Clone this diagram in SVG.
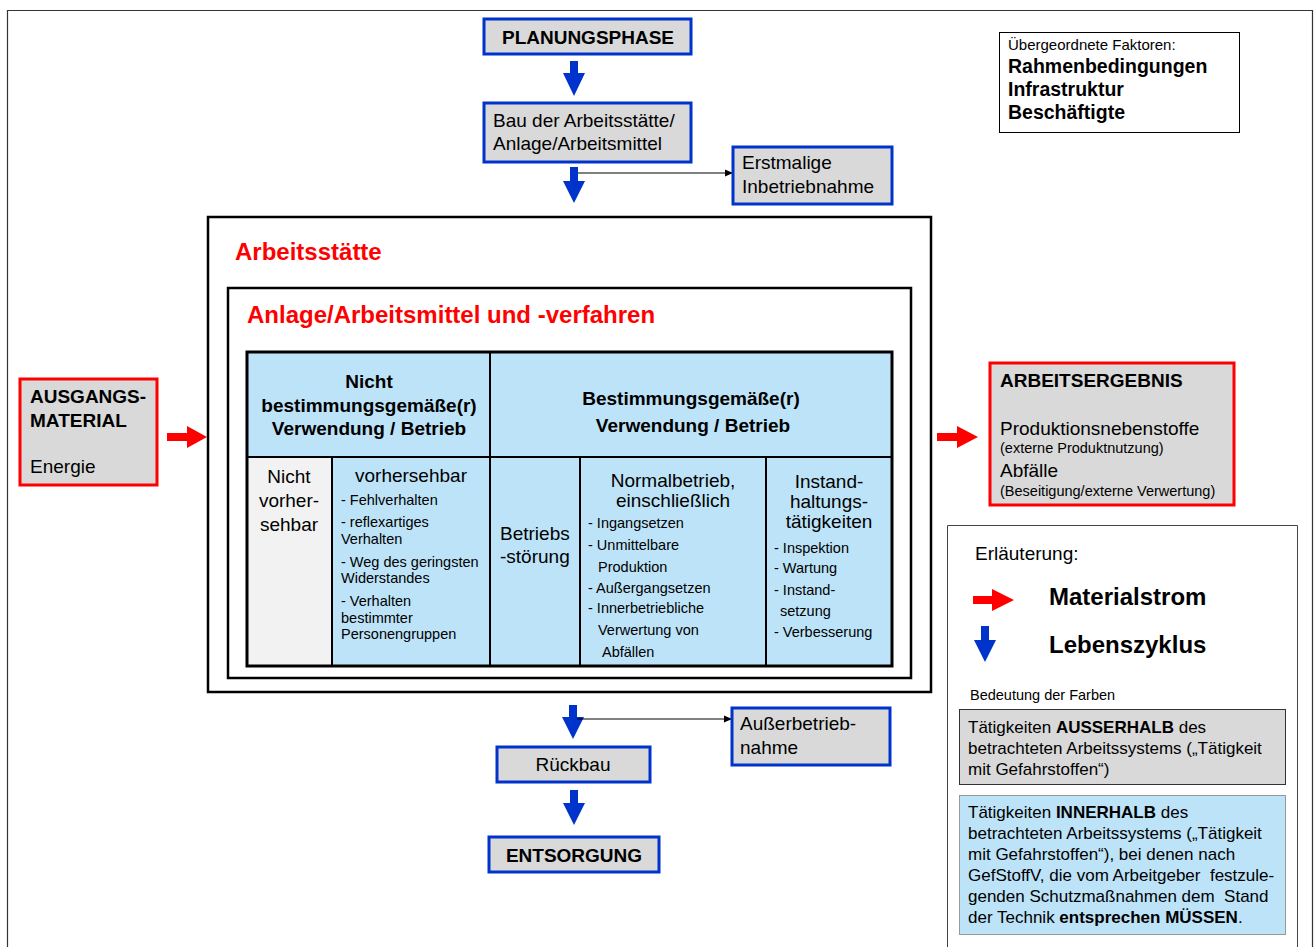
<svg xmlns="http://www.w3.org/2000/svg" width="1314" height="947" viewBox="0 0 1314 947">
<defs>
<marker id="ah" markerWidth="8" markerHeight="8" refX="7" refY="4" orient="auto" markerUnits="userSpaceOnUse">
<path d="M0,0.5 L8,4 L0,7.5 Z" fill="#000"/>
</marker>
<style>
text{font-family:"Liberation Sans",Arial,sans-serif;fill:#000}
.b{font-weight:bold}
.box{fill:#d9d9d9;stroke:#0033cc;stroke-width:3}
.rbox{fill:#d9d9d9;stroke:#ff0000;stroke-width:3}
.blue{fill:#0033cc}
.red{fill:#ff0000}
.t19{font-size:19px}
.t14{font-size:14.5px}
.t17{font-size:17px}
.title{font-size:24px;font-weight:bold;fill:#ff0000}
.big{font-size:24px;font-weight:bold}
.cell{stroke:#000;stroke-width:2}
.mid{text-anchor:middle}
</style>
</defs>
<rect width="1314" height="947" fill="#fff"/>
<path d="M7.5,947 V10.5 H1312.5 V947" fill="none" stroke="#333" stroke-width="1.2"/>

<g id="connectors">
<polygon class="blue" points="570,61 578,61 578,73 585,73 574,96 563,73 570,73"/>
<polygon class="blue" points="570,167 578,167 578,181 585,181 574,203 563,181 570,181"/>
<polygon class="blue" points="569,705 577,705 577,717 584,717 573,739 562,717 569,717"/>
<polygon class="blue" points="570,790 578,790 578,803 585,803 574,825 563,803 570,803"/>
<line x1="578" y1="173" x2="732" y2="173" stroke="#000" stroke-width="1" marker-end="url(#ah)"/>
<line x1="577" y1="719" x2="731" y2="719" stroke="#000" stroke-width="1" marker-end="url(#ah)"/>
<polygon class="red" points="167,433 187,433 187,426 207,437 187,448 187,441 167,441"/>
<polygon class="red" points="937,433 957,433 957,426 978,437 957,448 957,441 937,441"/>
</g>

<g id="planungsphase">
<rect class="box" x="484" y="19" width="207" height="35"/>
<text class="b t19 mid" x="588" y="44">PLANUNGSPHASE</text>
</g>

<g id="bau">
<rect class="box" x="484" y="103" width="207" height="59"/>
<text class="t19" x="493" y="127">Bau der Arbeitsstätte/</text>
<text class="t19" x="493" y="150">Anlage/Arbeitsmittel</text>
</g>

<g id="erstmalige">
<rect class="box" x="733" y="147" width="159" height="57"/>
<text class="t19" x="742" y="169">Erstmalige</text>
<text class="t19" x="742" y="193">Inbetriebnahme</text>
</g>

<g id="faktoren">
<rect x="999.5" y="32.5" width="240" height="100" fill="#fff" stroke="#000" stroke-width="1"/>
<text x="1008" y="50" style="font-size:15px">Übergeordnete Faktoren:</text>
<text class="b" x="1008" y="73" style="font-size:19.5px">Rahmenbedingungen</text>
<text class="b" x="1008" y="96" style="font-size:19.5px">Infrastruktur</text>
<text class="b" x="1008" y="119" style="font-size:19.5px">Beschäftigte</text>
</g>

<g id="arbeitsstaette">
<rect x="208" y="217" width="723" height="475" fill="#fff" stroke="#000" stroke-width="2.5"/>
<text class="title" x="235" y="260">Arbeitsstätte</text>
</g>

<g id="anlage">
<rect x="228" y="288" width="683" height="390" fill="#fff" stroke="#000" stroke-width="2.5"/>
<text class="title" x="247" y="323">Anlage/Arbeitsmittel und -verfahren</text>
</g>

<g id="tabelle">
<rect x="247" y="352" width="645" height="314" fill="#bde3f8"/>
<rect x="247" y="457" width="85" height="209" fill="#f2f2f2"/>
<g class="cell" fill="none">
<line x1="247" y1="457" x2="892" y2="457"/>
<line x1="490" y1="352" x2="490" y2="666"/>
<line x1="332" y1="457" x2="332" y2="666"/>
<line x1="580" y1="457" x2="580" y2="666"/>
<line x1="766" y1="457" x2="766" y2="666"/>
</g>
<rect x="247" y="352" width="645" height="314" fill="none" stroke="#000" stroke-width="3"/>
<text class="b t19 mid" x="369" y="388">Nicht</text>
<text class="b t19 mid" x="369" y="412">bestimmungsgemäße(r)</text>
<text class="b t19 mid" x="369" y="435">Verwendung / Betrieb</text>
<text class="b t19 mid" x="691" y="405">Bestimmungsgemäße(r)</text>
<text class="b t19 mid" x="693" y="432">Verwendung / Betrieb</text>

<text class="t19 mid" x="289" y="483">Nicht</text>
<text class="t19 mid" x="289" y="507">vorher-</text>
<text class="t19 mid" x="289" y="531">sehbar</text>

<text class="t19 mid" x="411" y="482">vorhersehbar</text>
<g class="t14">
<text x="341" y="505">- Fehlverhalten</text>
<text x="341" y="527">- reflexartiges</text>
<text x="341" y="544">Verhalten</text>
<text x="341" y="567">- Weg des geringsten</text>
<text x="341" y="583">Widerstandes</text>
<text x="341" y="606">- Verhalten</text>
<text x="341" y="623">bestimmter</text>
<text x="341" y="639">Personengruppen</text>
</g>

<text class="t19" x="500" y="540">Betriebs</text>
<text class="t19" x="500" y="563">-störung</text>

<text class="t19 mid" x="673" y="487">Normalbetrieb,</text>
<text class="t19 mid" x="673" y="507">einschließlich</text>
<g class="t14">
<text x="588" y="528">- Ingangsetzen</text>
<text x="588" y="550">- Unmittelbare</text>
<text x="598" y="572">Produktion</text>
<text x="588" y="593">- Außergangsetzen</text>
<text x="588" y="613">- Innerbetriebliche</text>
<text x="598" y="635">Verwertung von</text>
<text x="602" y="657">Abfällen</text>
</g>

<text class="t19 mid" x="829" y="488">Instand-</text>
<text class="t19 mid" x="829" y="508">haltungs-</text>
<text class="t19 mid" x="829" y="528">tätigkeiten</text>
<g class="t14">
<text x="774" y="553">- Inspektion</text>
<text x="774" y="573">- Wartung</text>
<text x="774" y="595">- Instand-</text>
<text x="780" y="616">setzung</text>
<text x="774" y="637">- Verbesserung</text>
</g>
</g>

<g id="ausgangsmaterial">
<rect class="rbox" x="20" y="379" width="137" height="106"/>
<text class="b t19" x="30" y="403">AUSGANGS-</text>
<text class="b t19" x="30" y="427">MATERIAL</text>
<text class="t19" x="30" y="473">Energie</text>
</g>

<g id="arbeitsergebnis">
<rect class="rbox" x="990" y="363" width="244" height="142"/>
<text class="b t19" x="1000" y="387">ARBEITSERGEBNIS</text>
<text class="t19" x="1000" y="435">Produktionsnebenstoffe</text>
<text class="t14" x="1000" y="453">(externe Produktnutzung)</text>
<text class="t19" x="1000" y="477">Abfälle</text>
<text class="t14" x="1000" y="496">(Beseitigung/externe Verwertung)</text>
</g>

<g id="ausserbetriebnahme">
<rect class="box" x="732" y="708" width="158" height="57"/>
<text class="t19" x="740" y="730">Außerbetrieb-</text>
<text class="t19" x="740" y="754">nahme</text>
</g>

<g id="rueckbau">
<rect class="box" x="497" y="747" width="153" height="35"/>
<text class="t19 mid" x="573" y="771">Rückbau</text>
</g>

<g id="entsorgung">
<rect class="box" x="489" y="837" width="170" height="35"/>
<text class="b t19 mid" x="574" y="862">ENTSORGUNG</text>
</g>

<g id="legende">
<path d="M947.5,947 V525.5 H1297.5 V947" fill="#fff" stroke="#444" stroke-width="1"/>
<text class="t19" x="975" y="560">Erläuterung:</text>
<polygon class="red" points="973,596 992,596 992,589 1014,600 992,611 992,604 973,604"/>
<text class="big" x="1049" y="605">Materialstrom</text>
<polygon class="blue" points="981,626 989,626 989,640 996,640 985,662 974,640 981,640"/>
<text class="big" x="1049" y="653">Lebenszyklus</text>
<text class="t14" x="970" y="700">Bedeutung der Farben</text>
<rect x="959.5" y="709.5" width="326" height="75" fill="#d9d9d9" stroke="#333" stroke-width="1"/>
<g class="t17">
<text x="968" y="733">Tätigkeiten <tspan class="b">AUSSERHALB</tspan> des</text>
<text x="968" y="754">betrachteten Arbeitssystems („Tätigkeit</text>
<text x="968" y="775">mit Gefahrstoffen“)</text>
</g>
<rect x="959.5" y="795.5" width="326" height="139" fill="#bde3f8" stroke="#999" stroke-width="1"/>
<g class="t17">
<text x="968" y="818">Tätigkeiten <tspan class="b">INNERHALB</tspan> des</text>
<text x="968" y="839">betrachteten Arbeitssystems („Tätigkeit</text>
<text x="968" y="860">mit Gefahrstoffen“), bei denen nach</text>
<text x="968" y="881" xml:space="preserve">GefStoffV, die vom Arbeitgeber  festzule-</text>
<text x="968" y="902" xml:space="preserve">genden Schutzmaßnahmen dem  Stand</text>
<text x="968" y="923">der Technik <tspan class="b">entsprechen MÜSSEN</tspan>.</text>
</g>
</g>
</svg>
